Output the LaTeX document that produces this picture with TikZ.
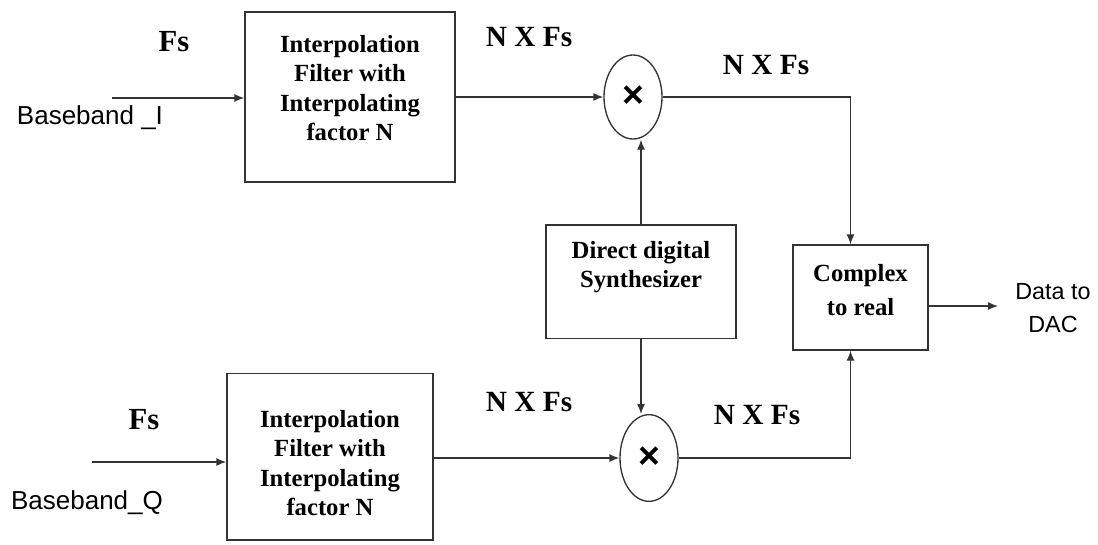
\documentclass[tikz,border=0pt]{standalone}
\usepackage{fontspec}
\setmainfont{Liberation Serif}
\newfontfamily\labsans{Liberation Sans}
\usetikzlibrary{arrows.meta,shapes.geometric,calc}

\tikzset{
  wire/.style={draw=black!80, line width=1pt},
  arr/.style={wire, -{Latex[length=7.5pt,width=6pt]}},
  blockbox/.style={draw=black!80, line width=1pt, rectangle, inner sep=0pt},
  mixer/.style={draw=black!80, line width=1pt, ellipse, inner sep=0pt,
    minimum width=43.5pt, font=\labsans\bfseries\fontsize{28}{28}\selectfont},
  blocktext/.style={align=center, inner sep=0pt,
    font=\bfseries\fontsize{18.5}{22}\selectfont},
  ratelabel/.style={inner sep=0pt, font=\bfseries\fontsize{22}{24}\selectfont},
  fslabel/.style={inner sep=0pt, font=\bfseries\fontsize{23}{24}\selectfont},
  siglabel/.style={inner sep=0pt, align=center, font=\labsans\fontsize{19.5}{22}\selectfont},
  outlabel/.style={inner sep=0pt, align=center, font=\labsans\fontsize{17.5}{25}\selectfont},
}

\begin{document}
\begin{tikzpicture}[x=0.75pt, y=-0.75pt]
  \useasboundingbox (0,0) rectangle (1098,544);

  % interpolation filters
  \node[blockbox, minimum width=157.5pt, minimum height=127.5pt] (fI) at (350,97) {};
  \node[blocktext] (fItxt) at (350,88) {Interpolation\\Filter with\\Interpolating\\factor N};
  \node[blockbox, minimum width=154.5pt, minimum height=125pt] (fQ) at (330,456.5) {};
  \node[blocktext] (fQtxt) at (330,463) {Interpolation\\Filter with\\Interpolating\\factor N};

  % mixers
  \node[mixer, minimum height=63pt] (mI) at (633,97) {×};
  \node[mixer, minimum height=65pt] (mQ) at (649,458) {×};

  % direct digital synthesizer
  \node[blockbox, minimum width=142.5pt, minimum height=85pt] (dds) at (641,281.5) {};
  \node[blocktext] (ddstxt) at (641,267) {Direct digital\\Synthesizer};

  % complex to real conversion
  \node[blockbox, minimum width=101.25pt, minimum height=78.75pt] (c2r) at (860.5,297.5) {};
  \node[blocktext, font=\bfseries\fontsize{18.5}{26}\selectfont] (c2rtxt) at (860.5,290) {Complex\\to real};

  % signal and rate labels
  \node[fslabel] (fsI) at (174,42) {Fs};
  \node[siglabel] (bbI) at (90,118) {Baseband \_I};
  \node[fslabel] (fsQ) at (144,420) {Fs};
  \node[siglabel] (bbQ) at (87,503) {Baseband\_Q};
  \node[ratelabel] (rI1) at (529,37) {N X Fs};
  \node[ratelabel] (rI2) at (766,65) {N X Fs};
  \node[ratelabel] (rQ1) at (529,402) {N X Fs};
  \node[ratelabel] (rQ2) at (757,415) {N X Fs};
  \node[outlabel] (dac) at (1053,308) {Data to\\DAC};

  % free ends of the connectors
  \coordinate (inI) at (112,98);
  \coordinate (inQ) at (92,462);
  \coordinate (dacin) at (998,306);

  % connectors
  \draw[arr] (inI) -- (inI -| fI.west);
  \draw[arr] (inQ) -- (inQ -| fQ.west);
  \draw[arr] (fI.east |- mI.west) -- (mI.west);
  \draw[arr] (fQ.east |- mQ.west) -- (mQ.west);
  \draw[arr] (dds.north) -- (dds.north |- mI.south);
  \draw[arr] (dds.south) -- (dds.south |- mQ.north);
  \draw[arr] (mI.east) -| ($(c2r.north)+(-10,0)$);
  \draw[arr] (mQ.east) -| ($(c2r.south)+(-10,0)$);
  \draw[arr] (c2r.east |- dacin) -- (dacin);
\end{tikzpicture}
\end{document}
